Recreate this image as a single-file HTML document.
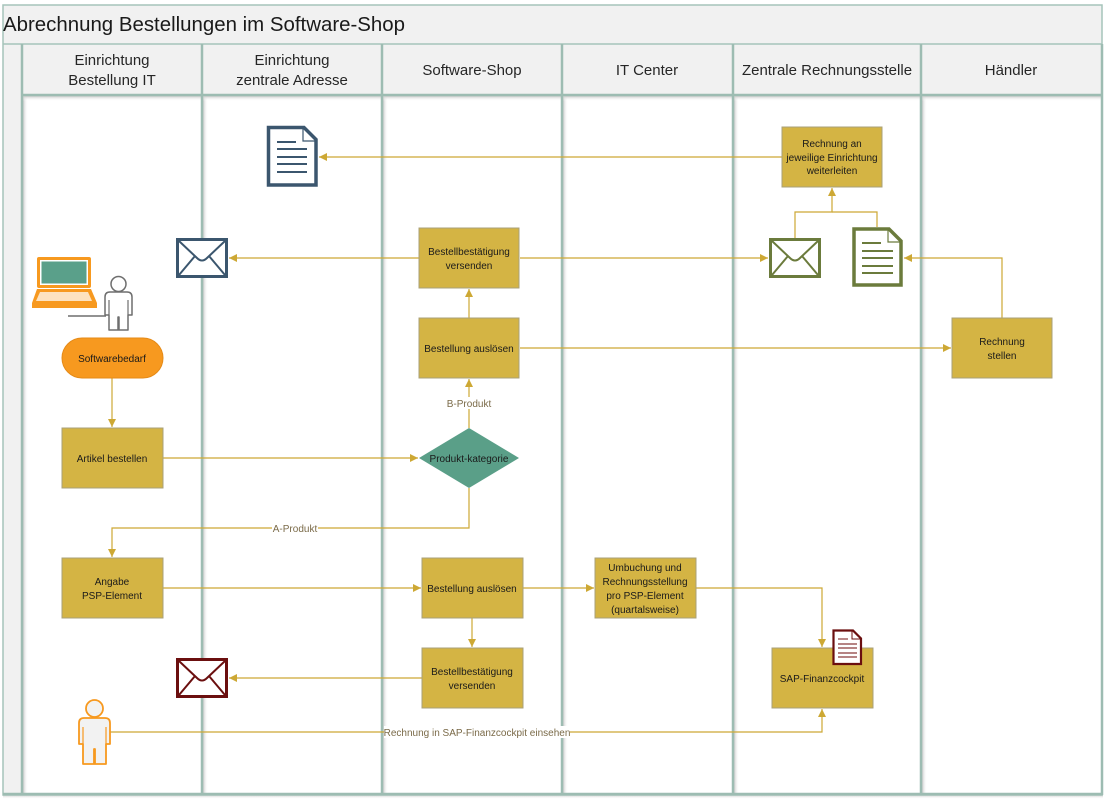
<!DOCTYPE html>
<html><head><meta charset="utf-8">
<style>
html,body{margin:0;padding:0;background:#fff;}
svg{display:block;}
text{font-family:"Liberation Sans",sans-serif;}
.h{font-size:15px;fill:#262626;text-anchor:middle;}
.b{font-size:10px;fill:#1a1a1a;text-anchor:middle;}
.l{font-size:10px;fill:#7a6a48;text-anchor:middle;}
.c{fill:none;stroke:#cda834;stroke-width:1.2;}
.box{fill:#d4b444;stroke:#a9a07a;stroke-width:1;}
</style></head>
<body>
<svg width="1110" height="803" viewBox="0 0 1110 803" xmlns="http://www.w3.org/2000/svg">
<defs>
<marker id="a" viewBox="0 0 10 10" refX="10" refY="5" markerWidth="8" markerHeight="8" markerUnits="userSpaceOnUse" orient="auto"><path d="M0,0 L10,5 L0,10 z" fill="#cda834"/></marker>
<linearGradient id="sh" x1="0" x2="1" y1="0" y2="0"><stop offset="0" stop-color="#c8c8c8"/><stop offset="1" stop-color="#ffffff" stop-opacity="0"/></linearGradient>
<linearGradient id="shv" x1="0" x2="0" y1="0" y2="1"><stop offset="0" stop-color="#c8c8c8"/><stop offset="1" stop-color="#ffffff" stop-opacity="0"/></linearGradient>
</defs>

<!-- frame -->
<rect x="3" y="5" width="1099" height="790" fill="#fff"/>
<rect x="3" y="5" width="1099" height="39" fill="#f1f1f1"/>
<rect x="3" y="44" width="1099" height="51" fill="#f1f1f1"/>
<rect x="3" y="95" width="19" height="700" fill="#f1f1f1"/>

<!-- shadows -->
<rect x="23" y="97" width="5" height="697" fill="url(#sh)"/>
<rect x="203" y="97" width="5" height="697" fill="url(#sh)"/>
<rect x="383" y="97" width="5" height="697" fill="url(#sh)"/>
<rect x="563" y="97" width="5" height="697" fill="url(#sh)"/>
<rect x="734" y="97" width="5" height="697" fill="url(#sh)"/>
<rect x="922" y="97" width="5" height="697" fill="url(#sh)"/>
<rect x="22" y="96" width="1080" height="5" fill="url(#shv)"/>
<rect x="3" y="795" width="1100" height="4" fill="url(#shv)"/>

<g stroke="#9dbcb2" fill="none">
<rect x="3" y="5" width="1099" height="790" stroke-width="1.5" stroke="#a5c4ba"/>
<line x1="3" y1="44" x2="1102" y2="44" stroke-width="1.5" stroke="#a5c4ba"/>
<line x1="22" y1="95" x2="1102" y2="95" stroke-width="2.5"/>
<line x1="22" y1="44" x2="22" y2="795" stroke-width="2.5"/>
<line x1="202" y1="44" x2="202" y2="795" stroke-width="2.5"/>
<line x1="382" y1="44" x2="382" y2="795" stroke-width="2.5"/>
<line x1="562" y1="44" x2="562" y2="795" stroke-width="2.5"/>
<line x1="733" y1="44" x2="733" y2="795" stroke-width="2.5"/>
<line x1="921" y1="44" x2="921" y2="795" stroke-width="2.5"/>
<line x1="1102" y1="44" x2="1102" y2="795" stroke-width="2.5"/>
<line x1="3" y1="794" x2="1102" y2="794" stroke-width="2.5"/>
</g>

<!-- titles -->
<text x="3" y="31" font-size="20" fill="#1a1a1a" textLength="402" lengthAdjust="spacingAndGlyphs">Abrechnung Bestellungen im Software-Shop</text>
<text class="h" x="112" y="65">Einrichtung</text>
<text class="h" x="112" y="85">Bestellung IT</text>
<text class="h" x="292" y="65">Einrichtung</text>
<text class="h" x="292" y="85">zentrale Adresse</text>
<text class="h" x="472" y="75">Software-Shop</text>
<text class="h" x="647" y="75">IT Center</text>
<text class="h" x="827" y="75">Zentrale Rechnungsstelle</text>
<text class="h" x="1011" y="75">Händler</text>

<!-- connectors -->
<path class="c" d="M782,157 H319" marker-end="url(#a)"/>
<path class="c" d="M419,258 H229" marker-end="url(#a)"/>
<path class="c" d="M520,258 H768" marker-end="url(#a)"/>
<path class="c" d="M469,318 V289" marker-end="url(#a)"/>
<path class="c" d="M520,348 H951" marker-end="url(#a)"/>
<path class="c" d="M469,428 V379" marker-end="url(#a)"/>
<path class="c" d="M112,378 V427" marker-end="url(#a)"/>
<path class="c" d="M163,458 H418" marker-end="url(#a)"/>
<path class="c" d="M469,488 V528 H112 V557" marker-end="url(#a)"/>
<path class="c" d="M163,588 H421" marker-end="url(#a)"/>
<path class="c" d="M523,588 H594" marker-end="url(#a)"/>
<path class="c" d="M696,588 H822 V647" marker-end="url(#a)"/>
<path class="c" d="M472,618 V647" marker-end="url(#a)"/>
<path class="c" d="M422,678 H229" marker-end="url(#a)"/>
<path class="c" d="M110,732 H822 V709" marker-end="url(#a)"/>
<path class="c" d="M795,238 V212 H832 V188" marker-end="url(#a)"/>
<path class="c" d="M877,227 V212 H832"/>
<path class="c" d="M1002,318 V258 H904" marker-end="url(#a)"/>

<!-- connector labels -->
<rect x="452" y="397" width="34" height="12" fill="#fff"/>
<text class="l" x="469" y="407">B-Produkt</text>
<rect x="272" y="522" width="46" height="12" fill="#fff"/>
<text class="l" x="295" y="532">A-Produkt</text>
<rect x="384" y="726" width="186" height="12" fill="#fff"/>
<text class="l" x="477" y="736">Rechnung in SAP-Finanzcockpit einsehen</text>

<!-- boxes -->
<rect class="box" x="782" y="127" width="100" height="60"/>
<text class="b" x="832" y="147">Rechnung an</text>
<text class="b" x="832" y="161">jeweilige Einrichtung</text>
<text class="b" x="832" y="174">weiterleiten</text>

<rect class="box" x="419" y="228" width="100" height="60"/>
<text class="b" x="469" y="255">Bestellbestätigung</text>
<text class="b" x="469" y="269">versenden</text>

<rect class="box" x="419" y="318" width="100" height="60"/>
<text class="b" x="469" y="352">Bestellung auslösen</text>

<rect class="box" x="952" y="318" width="100" height="60"/>
<text class="b" x="1002" y="345">Rechnung</text>
<text class="b" x="1002" y="359">stellen</text>

<rect class="box" x="62" y="428" width="101" height="60"/>
<text class="b" x="112" y="462">Artikel bestellen</text>

<path d="M419,458 L469,428 L519,458 L469,488 Z" fill="#5a9f88"/>
<text class="b" x="469" y="462">Produkt-kategorie</text>

<rect class="box" x="62" y="558" width="101" height="60"/>
<text class="b" x="112" y="585">Angabe</text>
<text class="b" x="112" y="599">PSP-Element</text>

<rect class="box" x="422" y="558" width="101" height="60"/>
<text class="b" x="472" y="592">Bestellung auslösen</text>

<rect class="box" x="595" y="558" width="101" height="60"/>
<text class="b" x="645" y="571">Umbuchung und</text>
<text class="b" x="645" y="585">Rechnungsstellung</text>
<text class="b" x="645" y="599">pro PSP-Element</text>
<text class="b" x="645" y="613">(quartalsweise)</text>

<rect class="box" x="422" y="648" width="101" height="60"/>
<text class="b" x="472" y="675">Bestellbestätigung</text>
<text class="b" x="472" y="689">versenden</text>

<rect class="box" x="772" y="648" width="101" height="60"/>
<text class="b" x="822" y="682">SAP-Finanzcockpit</text>

<!-- pill -->
<rect x="62" y="338" width="101" height="40" rx="20" ry="20" fill="#f7991f" stroke="#e58a17" stroke-width="1"/>
<text class="b" x="112" y="362">Softwarebedarf</text>

<!-- blue document -->
<path d="M268.5,127.5 H304 L316,139.5 V185 H268.5 Z" fill="#fff" stroke="#3b566e" stroke-width="3.5" stroke-linejoin="miter"/>
<path d="M303,128 V141 H316" fill="none" stroke="#3b566e" stroke-width="1.2"/>
<g stroke="#3b566e" stroke-width="2">
<line x1="277" y1="142" x2="296" y2="142"/>
<line x1="277" y1="149" x2="307" y2="149"/>
<line x1="277" y1="157" x2="307" y2="157"/>
<line x1="277" y1="164" x2="307" y2="164"/>
<line x1="277" y1="172" x2="307" y2="172"/>
</g>

<!-- blue envelope -->
<rect x="177.5" y="239.5" width="49" height="37" fill="#fff" stroke="#3b566e" stroke-width="3"/>
<path d="M179,241 L197,258 Q202,263 207,258 L225,241 M179,275 L195,256 M225,275 L209,256" fill="none" stroke="#3b566e" stroke-width="2"/>

<!-- red envelope -->
<rect x="177.5" y="659.5" width="49" height="37" fill="#fff" stroke="#6b0f0f" stroke-width="3"/>
<path d="M179,661 L197,678 Q202,683 207,678 L225,661 M179,695 L195,676 M225,695 L209,676" fill="none" stroke="#6b0f0f" stroke-width="2"/>

<!-- green envelope -->
<rect x="770.5" y="239.5" width="49" height="37" fill="#fff" stroke="#6b7b3c" stroke-width="3"/>
<path d="M772,241 L790,258 Q795,263 800,258 L818,241 M772,275 L788,256 M818,275 L802,256" fill="none" stroke="#6b7b3c" stroke-width="2"/>

<!-- green document -->
<path d="M854,229 H889 L901,241 V285 H854 Z" fill="#fff" stroke="#6b7b3c" stroke-width="3.5"/>
<path d="M888,229 V242 H901" fill="none" stroke="#6b7b3c" stroke-width="1.2"/>
<g stroke="#6b7b3c" stroke-width="2">
<line x1="862" y1="243" x2="881" y2="243"/>
<line x1="862" y1="251" x2="893" y2="251"/>
<line x1="862" y1="258" x2="893" y2="258"/>
<line x1="862" y1="266" x2="893" y2="266"/>
<line x1="862" y1="273" x2="893" y2="273"/>
</g>

<!-- red document on SAP -->
<path d="M833.5,630.5 H853 L861,638.5 V664 H833.5 Z" fill="#fff" stroke="#6b0f0f" stroke-width="2.2"/>
<path d="M852,631 V639 H861" fill="none" stroke="#6b0f0f" stroke-width="1"/>
<g stroke="#8b3a3a" stroke-width="1.2">
<line x1="838" y1="639" x2="848" y2="639"/>
<line x1="838" y1="644" x2="857" y2="644"/>
<line x1="838" y1="648" x2="857" y2="648"/>
<line x1="838" y1="653" x2="857" y2="653"/>
<line x1="838" y1="657" x2="857" y2="657"/>
</g>

<!-- laptop -->
<rect x="37" y="257" width="54" height="31" rx="2" fill="#f7991f"/>
<rect x="40" y="260" width="48" height="25" fill="#fff"/>
<rect x="41.5" y="261.5" width="45" height="22" fill="#5aa08a"/>
<path d="M37,289 H91 L97,303 V308 H32 V303 Z" fill="#f7991f"/>
<path d="M40,292 H88 L92,301 H36 Z" fill="#fde2bf"/>

<!-- gray person -->
<line x1="68" y1="316" x2="106" y2="316" stroke="#6e6e6e" stroke-width="1.5"/>
<circle cx="118.5" cy="284" r="7.5" fill="#fff" stroke="#6e6e6e" stroke-width="1.5"/>
<path d="M105,315 V297 Q105,292 110,292 H127 Q132,292 132,297 V315 H128 V330 H119 V317 H118 V330 H109 V315 Z" fill="#fff" stroke="#6e6e6e" stroke-width="1.5" stroke-linejoin="round"/>
<line x1="109" y1="300" x2="109" y2="315" stroke="#6e6e6e" stroke-width="1.2"/>
<line x1="128" y1="300" x2="128" y2="315" stroke="#6e6e6e" stroke-width="1.2"/>

<!-- orange person -->
<circle cx="94.5" cy="708.5" r="8.5" fill="#f2f2f2" stroke="#f7991f" stroke-width="1.8"/>
<path d="M79,744 V723 Q79,718 84,718 H105 Q110,718 110,723 V744 H106 V764 H95 V749 H94 V764 H83 V744 Z" fill="#f2f2f2" stroke="#f7991f" stroke-width="1.8" stroke-linejoin="round"/>
<line x1="83" y1="727" x2="83" y2="744" stroke="#f7991f" stroke-width="1.2"/>
<line x1="106" y1="727" x2="106" y2="744" stroke="#f7991f" stroke-width="1.2"/>
</svg>
</body></html>
